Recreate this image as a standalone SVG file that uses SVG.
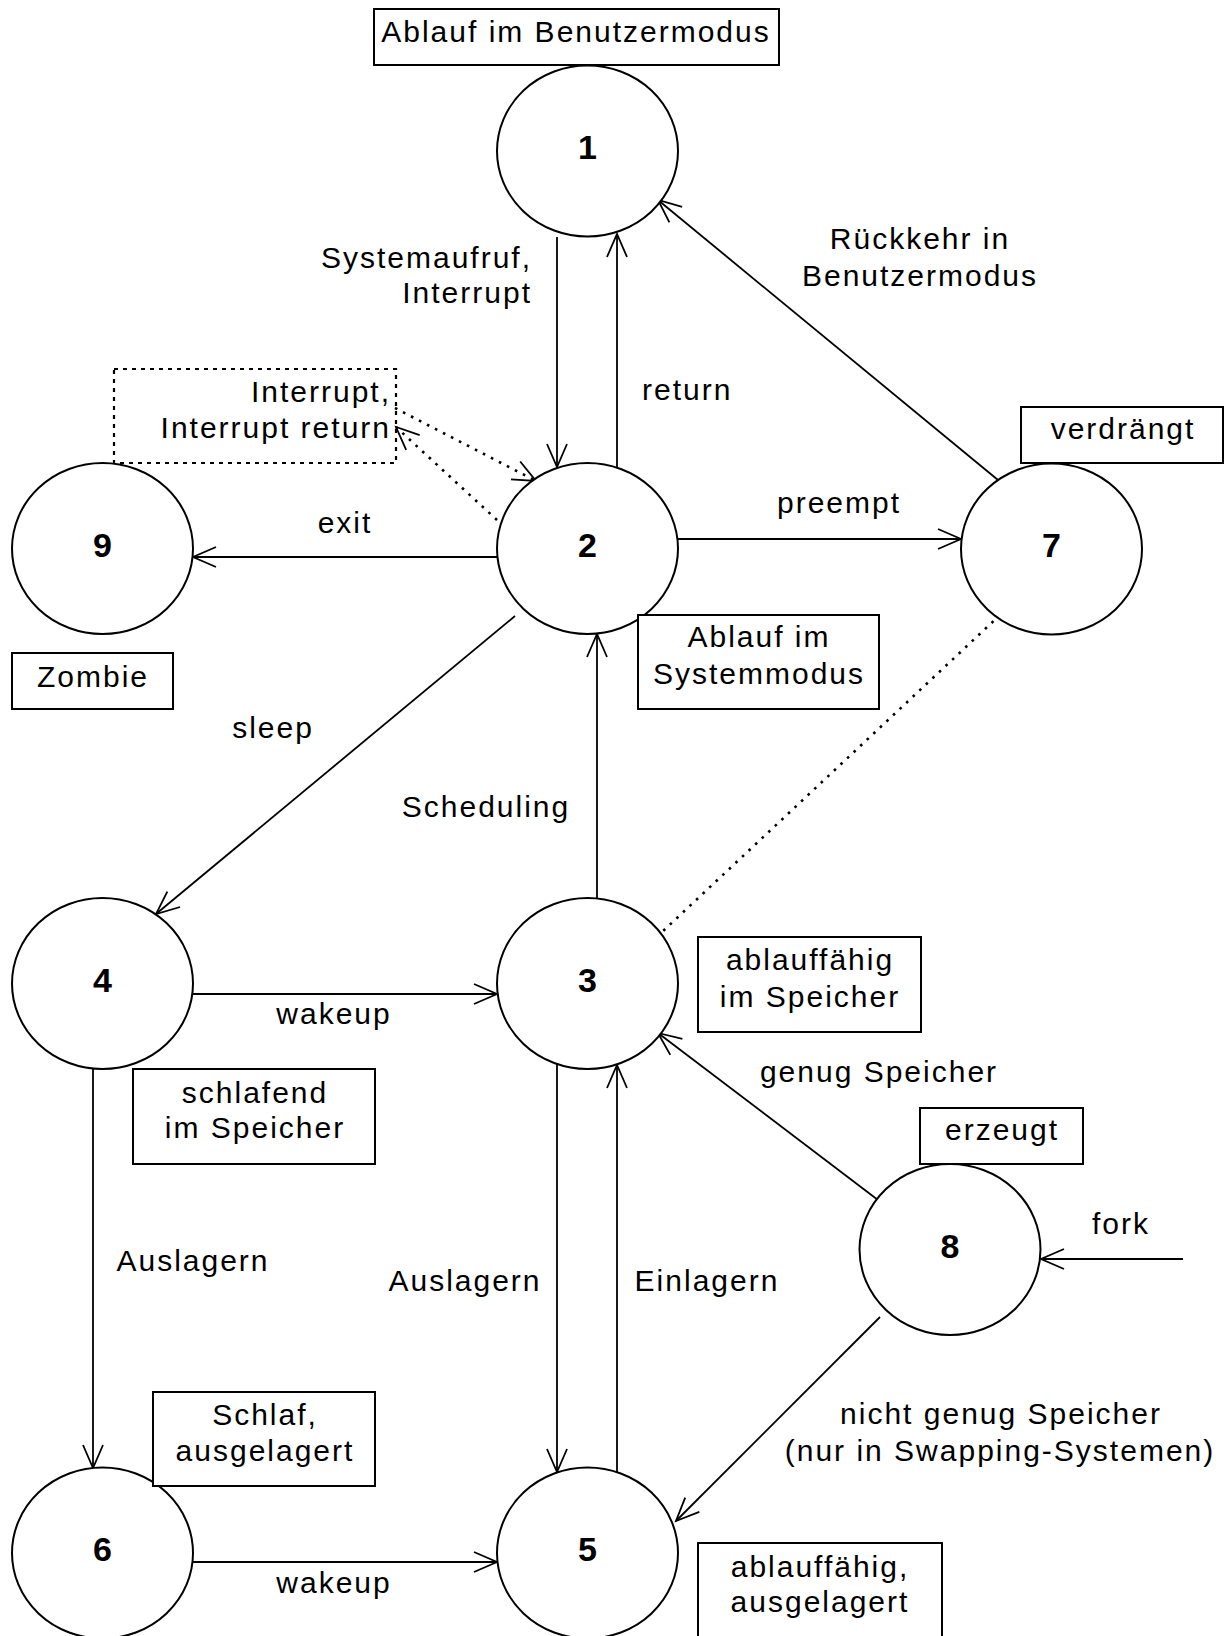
<svg xmlns="http://www.w3.org/2000/svg" width="1229" height="1636" viewBox="0 0 1229 1636">
  <style>
    .state { fill: #fff; stroke: #000; stroke-width: 2; }
    .num { font-family: "Liberation Sans", Arial, sans-serif; font-size: 34px; font-weight: bold; text-anchor: middle; fill: #000; }
    .lbl { font-family: "Liberation Sans", Arial, sans-serif; font-size: 30px; letter-spacing: 2px; fill: #000; }
    .mid { text-anchor: middle; }
    .end { text-anchor: end; }
    .note { fill: #fff; stroke: #000; stroke-width: 2; }
    .dash-box { fill: none; stroke: #000; stroke-width: 2.2; stroke-dasharray: 4 5; }
    .edge { fill: none; stroke: #000; stroke-width: 1.8; }
    .dotted { fill: none; stroke: #000; stroke-width: 2.6; stroke-dasharray: 2.6 6.4; }
  </style>
  <defs>
    <marker id="arr" markerUnits="userSpaceOnUse" markerWidth="30" markerHeight="26" viewBox="-27 -13 30 26" refX="0" refY="0" orient="auto">
      <path d="M-23,-10 L0,0 L-23,10" fill="none" stroke="#000" stroke-width="1.8" stroke-dasharray="none"/>
    </marker>
  </defs>
  <rect width="1229" height="1636" fill="#fff"/>

  <!-- transitions -->
  <g id="connectors">
    <line class="edge" x1="557" y1="237" x2="557" y2="467" marker-end="url(#arr)"/>
    <line class="edge" x1="617" y1="467" x2="617" y2="234" marker-end="url(#arr)"/>
    <line class="edge" x1="497" y1="557" x2="193" y2="557" marker-end="url(#arr)"/>
    <line class="edge" x1="678" y1="539" x2="961" y2="539" marker-end="url(#arr)"/>
    <line class="edge" x1="998" y1="480" x2="658" y2="200" marker-end="url(#arr)"/>
    <line class="edge" x1="515" y1="616" x2="156" y2="914" marker-end="url(#arr)"/>
    <line class="edge" x1="597" y1="898" x2="597" y2="634" marker-end="url(#arr)"/>
    <line class="edge" x1="193" y1="994" x2="497" y2="994" marker-end="url(#arr)"/>
    <line class="edge" x1="93" y1="1068" x2="93" y2="1468" marker-end="url(#arr)"/>
    <line class="edge" x1="557" y1="1064" x2="557" y2="1472" marker-end="url(#arr)"/>
    <line class="edge" x1="617" y1="1472" x2="617" y2="1065" marker-end="url(#arr)"/>
    <line class="edge" x1="193" y1="1562" x2="497" y2="1562" marker-end="url(#arr)"/>
    <line class="edge" x1="878" y1="1200" x2="658" y2="1033" marker-end="url(#arr)"/>
    <line class="edge" x1="880" y1="1317" x2="676" y2="1521" marker-end="url(#arr)"/>
    <line class="edge" x1="1183" y1="1259" x2="1041" y2="1259" marker-end="url(#arr)"/>
    <line class="dotted" x1="1000" y1="615" x2="662" y2="932"/>
    <line class="dotted" x1="395" y1="408" x2="536" y2="481" marker-end="url(#arr)"/>
    <line class="dotted" x1="497" y1="520" x2="396" y2="427" marker-end="url(#arr)"/>
  </g>

  <!-- transition labels -->
  <g id="edge-labels">
    <text class="lbl end" x="532" y="268">Systemaufruf,</text>
    <text class="lbl end" x="532" y="303">Interrupt</text>
    <text class="lbl" x="642" y="400">return</text>
    <text class="lbl mid" x="920" y="249">Rückkehr in</text>
    <text class="lbl mid" x="920" y="286">Benutzermodus</text>
    <text class="lbl mid" x="839" y="513">preempt</text>
    <text class="lbl mid" x="345" y="533">exit</text>
    <text class="lbl mid" x="273" y="738">sleep</text>
    <text class="lbl mid" x="486" y="817">Scheduling</text>
    <text class="lbl mid" x="334" y="1024">wakeup</text>
    <text class="lbl mid" x="879" y="1082">genug Speicher</text>
    <text class="lbl mid" x="1121" y="1234">fork</text>
    <text class="lbl mid" x="193" y="1271">Auslagern</text>
    <text class="lbl mid" x="465" y="1291">Auslagern</text>
    <text class="lbl mid" x="707" y="1291">Einlagern</text>
    <text class="lbl mid" x="1001" y="1424">nicht genug Speicher</text>
    <text class="lbl mid" x="1000" y="1461">(nur in Swapping-Systemen)</text>
    <text class="lbl mid" x="334" y="1593">wakeup</text>
  </g>

  <!-- interrupt note (dashed) -->
  <g id="interrupt-note">
    <rect class="dash-box" x="114" y="369" width="282" height="94"/>
    <text class="lbl end" x="391" y="402">Interrupt,</text>
    <text class="lbl end" x="391" y="438">Interrupt return</text>
  </g>

  <!-- states -->
  <g id="state-1"><ellipse class="state" cx="587.5" cy="151" rx="90.5" ry="85.5"/><text class="num" x="587.5" y="159">1</text></g>
  <g id="state-2"><ellipse class="state" cx="587.5" cy="548.5" rx="90.5" ry="85.5"/><text class="num" x="587.5" y="557">2</text></g>
  <g id="state-9"><ellipse class="state" cx="102.5" cy="548.5" rx="90.5" ry="85.5"/><text class="num" x="102.5" y="557">9</text></g>
  <g id="state-7"><ellipse class="state" cx="1051.5" cy="549" rx="90.5" ry="85.5"/><text class="num" x="1051.5" y="557">7</text></g>
  <g id="state-4"><ellipse class="state" cx="102.5" cy="983.5" rx="90.5" ry="85.5"/><text class="num" x="102.5" y="992">4</text></g>
  <g id="state-3"><ellipse class="state" cx="587.5" cy="983.5" rx="90.5" ry="85.5"/><text class="num" x="587.5" y="992">3</text></g>
  <g id="state-8"><ellipse class="state" cx="950" cy="1249.5" rx="90.5" ry="85.5"/><text class="num" x="950" y="1258">8</text></g>
  <g id="state-6"><ellipse class="state" cx="102.5" cy="1553" rx="90.5" ry="85.5"/><text class="num" x="102.5" y="1561">6</text></g>
  <g id="state-5"><ellipse class="state" cx="587.5" cy="1553" rx="90.5" ry="85.5"/><text class="num" x="587.5" y="1561">5</text></g>

  <!-- state descriptions -->
  <g id="note-1"><rect class="note" x="374" y="9" width="405" height="56"/><text class="lbl mid" x="576" y="42">Ablauf im Benutzermodus</text></g>
  <g id="note-2"><rect class="note" x="638" y="615" width="241" height="94"/><text class="lbl mid" x="759" y="647">Ablauf im</text><text class="lbl mid" x="759" y="684">Systemmodus</text></g>
  <g id="note-9"><rect class="note" x="12" y="653" width="161" height="56"/><text class="lbl mid" x="93" y="687">Zombie</text></g>
  <g id="note-7"><rect class="note" x="1021" y="407" width="202" height="56"/><text class="lbl mid" x="1123" y="439">verdrängt</text></g>
  <g id="note-3"><rect class="note" x="698" y="937" width="223" height="95"/><text class="lbl mid" x="810" y="970">ablauffähig</text><text class="lbl mid" x="810" y="1007">im Speicher</text></g>
  <g id="note-4"><rect class="note" x="133" y="1069" width="242" height="95"/><text class="lbl mid" x="255" y="1103">schlafend</text><text class="lbl mid" x="255" y="1138">im Speicher</text></g>
  <g id="note-8"><rect class="note" x="920" y="1108" width="163" height="56"/><text class="lbl mid" x="1002" y="1140">erzeugt</text></g>
  <g id="note-6"><rect class="note" x="153" y="1392" width="222" height="94"/><text class="lbl mid" x="265" y="1425">Schlaf,</text><text class="lbl mid" x="265" y="1461">ausgelagert</text></g>
  <g id="note-5"><rect class="note" x="698" y="1543" width="244" height="110"/><text class="lbl mid" x="820" y="1577">ablauffähig,</text><text class="lbl mid" x="820" y="1612">ausgelagert</text></g>
</svg>
